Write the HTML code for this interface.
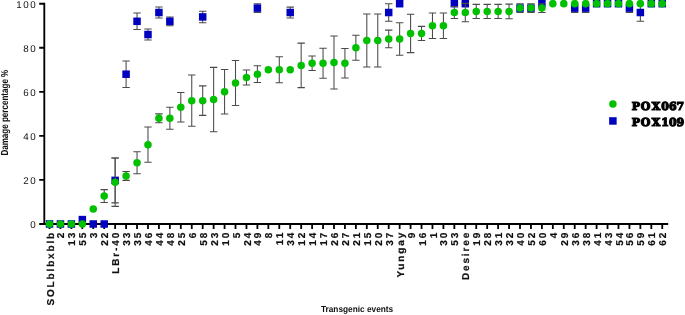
<!DOCTYPE html>
<html><head><meta charset="utf-8"><title>Damage percentage</title>
<style>
html,body{margin:0;padding:0;background:#fff;}
body{width:685px;height:315px;overflow:hidden;}
svg{display:block;}
text{font-family:"Liberation Sans",sans-serif;fill:#111;text-rendering:geometricPrecision;}
.yl{font-size:9.8px;letter-spacing:1.55px;text-anchor:end;}
.xl{font-size:10px;font-weight:bold;stroke:#111;stroke-width:0.2px;letter-spacing:1.85px;text-anchor:end;}
.t{font-size:8px;font-weight:bold;}
.lg{font-family:"DejaVu Serif",serif;font-weight:bold;font-size:11px;fill:#000;stroke:#000;stroke-width:1.15px;}
</style></head><body>
<svg width="685" height="315" viewBox="0 0 685 315">
<rect width="685" height="315" fill="#fff"/>
<g stroke="#000" fill="none">
<path d="M44.30 2.78V224.93" stroke-width="1.85"/>
<path d="M43.38 224.00H668.20" stroke-width="1.85"/>
<path d="M39.20 224.00H44.30M39.20 179.94H44.30M39.20 135.88H44.30M39.20 91.82H44.30M39.20 47.76H44.30M39.20 3.70H44.30" stroke-width="1.85"/>
<path d="M49.50 224.00V229.00M60.44 224.00V229.00M71.38 224.00V229.00M82.33 224.00V229.00M93.27 224.00V229.00M104.21 224.00V229.00M115.15 224.00V229.00M126.09 224.00V229.00M137.04 224.00V229.00M147.98 224.00V229.00M158.92 224.00V229.00M169.86 224.00V229.00M180.80 224.00V229.00M191.75 224.00V229.00M202.69 224.00V229.00M213.63 224.00V229.00M224.57 224.00V229.00M235.51 224.00V229.00M246.46 224.00V229.00M257.40 224.00V229.00M268.34 224.00V229.00M279.28 224.00V229.00M290.22 224.00V229.00M301.17 224.00V229.00M312.11 224.00V229.00M323.05 224.00V229.00M333.99 224.00V229.00M344.93 224.00V229.00M355.88 224.00V229.00M366.82 224.00V229.00M377.76 224.00V229.00M388.70 224.00V229.00M399.64 224.00V229.00M410.59 224.00V229.00M421.53 224.00V229.00M432.47 224.00V229.00M443.41 224.00V229.00M454.35 224.00V229.00M465.30 224.00V229.00M476.24 224.00V229.00M487.18 224.00V229.00M498.12 224.00V229.00M509.06 224.00V229.00M520.01 224.00V229.00M530.95 224.00V229.00M541.89 224.00V229.00M552.83 224.00V229.00M563.77 224.00V229.00M574.72 224.00V229.00M585.66 224.00V229.00M596.60 224.00V229.00M607.54 224.00V229.00M618.48 224.00V229.00M629.43 224.00V229.00M640.37 224.00V229.00M651.31 224.00V229.00M662.25 224.00V229.00" stroke-width="1.8"/>
</g>
<g>
<rect x="45.75" y="220.25" width="7.5" height="7.5" fill="#0000c0"/>
<rect x="56.69" y="220.25" width="7.5" height="7.5" fill="#0000c0"/>
<rect x="67.63" y="220.25" width="7.5" height="7.5" fill="#0000c0"/>
<rect x="78.58" y="215.84" width="7.5" height="7.5" fill="#0000c0"/>
<rect x="89.52" y="220.25" width="7.5" height="7.5" fill="#0000c0"/>
<rect x="100.46" y="220.25" width="7.5" height="7.5" fill="#0000c0"/>
<path d="M115.15 157.91V202.85M111.45 157.91H118.85M111.45 202.85H118.85" fill="none" stroke="#4a4a4a" stroke-width="1.05"/>
<rect x="111.40" y="176.63" width="7.5" height="7.5" fill="#0000c0"/>
<path d="M126.09 60.98V87.41M122.39 60.98H129.79M122.39 87.41H129.79" fill="none" stroke="#4a4a4a" stroke-width="1.05"/>
<rect x="122.34" y="70.45" width="7.5" height="7.5" fill="#0000c0"/>
<path d="M137.04 13.06V29.59M133.34 13.06H140.74M133.34 29.59H140.74" fill="none" stroke="#4a4a4a" stroke-width="1.05"/>
<rect x="133.29" y="17.57" width="7.5" height="7.5" fill="#0000c0"/>
<path d="M147.98 29.03V40.05M144.28 29.03H151.68M144.28 40.05H151.68" fill="none" stroke="#4a4a4a" stroke-width="1.05"/>
<rect x="144.23" y="30.79" width="7.5" height="7.5" fill="#0000c0"/>
<path d="M158.92 7.00V18.02M155.22 7.00H162.62M155.22 18.02H162.62" fill="none" stroke="#4a4a4a" stroke-width="1.05"/>
<rect x="155.17" y="8.76" width="7.5" height="7.5" fill="#0000c0"/>
<path d="M169.86 16.92V25.73M166.16 16.92H173.56M166.16 25.73H173.56" fill="none" stroke="#4a4a4a" stroke-width="1.05"/>
<rect x="166.11" y="17.57" width="7.5" height="7.5" fill="#0000c0"/>
<path d="M202.69 11.19V22.65M198.99 11.19H206.39M198.99 22.65H206.39" fill="none" stroke="#4a4a4a" stroke-width="1.05"/>
<rect x="198.94" y="13.17" width="7.5" height="7.5" fill="#0000c0"/>
<path d="M257.40 3.70V12.51M253.70 3.70H261.10M253.70 12.51H261.10" fill="none" stroke="#4a4a4a" stroke-width="1.05"/>
<rect x="253.65" y="4.36" width="7.5" height="7.5" fill="#0000c0"/>
<path d="M290.22 7.11V17.91M286.52 7.11H293.92M286.52 17.91H293.92" fill="none" stroke="#4a4a4a" stroke-width="1.05"/>
<rect x="286.47" y="8.76" width="7.5" height="7.5" fill="#0000c0"/>
<path d="M388.70 3.70V21.32M385.00 3.70H392.40M385.00 21.32H392.40" fill="none" stroke="#4a4a4a" stroke-width="1.05"/>
<rect x="384.95" y="8.76" width="7.5" height="7.5" fill="#0000c0"/>
<rect x="395.89" y="-0.05" width="7.5" height="7.5" fill="#0000c0"/>
<rect x="450.60" y="-0.05" width="7.5" height="7.5" fill="#0000c0"/>
<rect x="461.55" y="-0.05" width="7.5" height="7.5" fill="#0000c0"/>
<path d="M520.01 3.70V12.51M516.31 3.70H523.71M516.31 12.51H523.71" fill="none" stroke="#4a4a4a" stroke-width="1.05"/>
<rect x="516.26" y="4.36" width="7.5" height="7.5" fill="#0000c0"/>
<path d="M530.95 3.70V12.51M527.25 3.70H534.65M527.25 12.51H534.65" fill="none" stroke="#4a4a4a" stroke-width="1.05"/>
<rect x="527.20" y="4.36" width="7.5" height="7.5" fill="#0000c0"/>
<rect x="538.14" y="-0.05" width="7.5" height="7.5" fill="#0000c0"/>
<path d="M574.72 3.70V12.51M571.02 3.70H578.42M571.02 12.51H578.42" fill="none" stroke="#4a4a4a" stroke-width="1.05"/>
<rect x="570.97" y="4.36" width="7.5" height="7.5" fill="#0000c0"/>
<path d="M585.66 3.70V12.51M581.96 3.70H589.36M581.96 12.51H589.36" fill="none" stroke="#4a4a4a" stroke-width="1.05"/>
<rect x="581.91" y="4.36" width="7.5" height="7.5" fill="#0000c0"/>
<rect x="592.85" y="-0.05" width="7.5" height="7.5" fill="#0000c0"/>
<rect x="603.79" y="-0.05" width="7.5" height="7.5" fill="#0000c0"/>
<rect x="614.73" y="-0.05" width="7.5" height="7.5" fill="#0000c0"/>
<path d="M629.43 3.70V12.51M625.73 3.70H633.13M625.73 12.51H633.13" fill="none" stroke="#4a4a4a" stroke-width="1.05"/>
<rect x="625.68" y="4.36" width="7.5" height="7.5" fill="#0000c0"/>
<path d="M640.37 3.70V21.32M636.67 3.70H644.07M636.67 21.32H644.07" fill="none" stroke="#4a4a4a" stroke-width="1.05"/>
<rect x="636.62" y="8.76" width="7.5" height="7.5" fill="#0000c0"/>
<rect x="647.56" y="-0.05" width="7.5" height="7.5" fill="#0000c0"/>
<rect x="658.50" y="-0.05" width="7.5" height="7.5" fill="#0000c0"/>
</g>
<g>
<circle cx="49.50" cy="224.00" r="3.75" fill="#00c000"/>
<circle cx="60.44" cy="224.00" r="3.75" fill="#00c000"/>
<circle cx="71.38" cy="224.00" r="3.75" fill="#00c000"/>
<circle cx="82.33" cy="224.00" r="3.75" fill="#00c000"/>
<circle cx="93.27" cy="209.02" r="3.75" fill="#00c000"/>
<path d="M104.21 189.63V202.41M100.51 189.63H107.91M100.51 202.41H107.91" fill="none" stroke="#4a4a4a" stroke-width="1.05"/>
<circle cx="104.21" cy="196.02" r="3.75" fill="#00c000"/>
<path d="M115.15 157.91V206.38M111.45 157.91H118.85M111.45 206.38H118.85" fill="none" stroke="#4a4a4a" stroke-width="1.05"/>
<circle cx="115.15" cy="182.14" r="3.75" fill="#00c000"/>
<path d="M126.09 171.57V180.38M122.39 171.57H129.79M122.39 180.38H129.79" fill="none" stroke="#4a4a4a" stroke-width="1.05"/>
<circle cx="126.09" cy="175.97" r="3.75" fill="#00c000"/>
<path d="M137.04 151.74V173.77M133.34 151.74H140.74M133.34 173.77H140.74" fill="none" stroke="#4a4a4a" stroke-width="1.05"/>
<circle cx="137.04" cy="162.76" r="3.75" fill="#00c000"/>
<path d="M147.98 127.07V162.32M144.28 127.07H151.68M144.28 162.32H151.68" fill="none" stroke="#4a4a4a" stroke-width="1.05"/>
<circle cx="147.98" cy="144.69" r="3.75" fill="#00c000"/>
<path d="M158.92 113.85V122.66M155.22 113.85H162.62M155.22 122.66H162.62" fill="none" stroke="#4a4a4a" stroke-width="1.05"/>
<circle cx="158.92" cy="118.26" r="3.75" fill="#00c000"/>
<path d="M169.86 107.24V129.27M166.16 107.24H173.56M166.16 129.27H173.56" fill="none" stroke="#4a4a4a" stroke-width="1.05"/>
<circle cx="169.86" cy="118.26" r="3.75" fill="#00c000"/>
<path d="M180.80 92.48V122.00M177.10 92.48H184.50M177.10 122.00H184.50" fill="none" stroke="#4a4a4a" stroke-width="1.05"/>
<circle cx="180.80" cy="107.24" r="3.75" fill="#00c000"/>
<path d="M191.75 75.08V126.19M188.05 75.08H195.45M188.05 126.19H195.45" fill="none" stroke="#4a4a4a" stroke-width="1.05"/>
<circle cx="191.75" cy="100.63" r="3.75" fill="#00c000"/>
<path d="M202.69 85.87V115.39M198.99 85.87H206.39M198.99 115.39H206.39" fill="none" stroke="#4a4a4a" stroke-width="1.05"/>
<circle cx="202.69" cy="100.63" r="3.75" fill="#00c000"/>
<path d="M213.63 67.37V131.69M209.93 67.37H217.33M209.93 131.69H217.33" fill="none" stroke="#4a4a4a" stroke-width="1.05"/>
<circle cx="213.63" cy="99.53" r="3.75" fill="#00c000"/>
<path d="M224.57 69.57V114.07M220.87 69.57H228.27M220.87 114.07H228.27" fill="none" stroke="#4a4a4a" stroke-width="1.05"/>
<circle cx="224.57" cy="91.82" r="3.75" fill="#00c000"/>
<path d="M235.51 60.54V105.48M231.81 60.54H239.21M231.81 105.48H239.21" fill="none" stroke="#4a4a4a" stroke-width="1.05"/>
<circle cx="235.51" cy="83.01" r="3.75" fill="#00c000"/>
<path d="M246.46 70.01V84.99M242.76 70.01H250.16M242.76 84.99H250.16" fill="none" stroke="#4a4a4a" stroke-width="1.05"/>
<circle cx="246.46" cy="77.50" r="3.75" fill="#00c000"/>
<path d="M257.40 65.82V82.57M253.70 65.82H261.10M253.70 82.57H261.10" fill="none" stroke="#4a4a4a" stroke-width="1.05"/>
<circle cx="257.40" cy="74.20" r="3.75" fill="#00c000"/>
<circle cx="268.34" cy="69.79" r="3.75" fill="#00c000"/>
<path d="M279.28 56.79V82.79M275.58 56.79H282.98M275.58 82.79H282.98" fill="none" stroke="#4a4a4a" stroke-width="1.05"/>
<circle cx="279.28" cy="69.79" r="3.75" fill="#00c000"/>
<circle cx="290.22" cy="69.79" r="3.75" fill="#00c000"/>
<path d="M301.17 43.13V87.63M297.47 43.13H304.87M297.47 87.63H304.87" fill="none" stroke="#4a4a4a" stroke-width="1.05"/>
<circle cx="301.17" cy="65.38" r="3.75" fill="#00c000"/>
<path d="M312.11 55.91V70.45M308.41 55.91H315.81M308.41 70.45H315.81" fill="none" stroke="#4a4a4a" stroke-width="1.05"/>
<circle cx="312.11" cy="63.18" r="3.75" fill="#00c000"/>
<path d="M323.05 48.20V78.16M319.35 48.20H326.75M319.35 78.16H326.75" fill="none" stroke="#4a4a4a" stroke-width="1.05"/>
<circle cx="323.05" cy="63.18" r="3.75" fill="#00c000"/>
<path d="M333.99 36.08V88.96M330.29 36.08H337.69M330.29 88.96H337.69" fill="none" stroke="#4a4a4a" stroke-width="1.05"/>
<circle cx="333.99" cy="62.52" r="3.75" fill="#00c000"/>
<path d="M344.93 48.42V77.94M341.23 48.42H348.63M341.23 77.94H348.63" fill="none" stroke="#4a4a4a" stroke-width="1.05"/>
<circle cx="344.93" cy="63.18" r="3.75" fill="#00c000"/>
<path d="M355.88 35.20V60.32M352.18 35.20H359.58M352.18 60.32H359.58" fill="none" stroke="#4a4a4a" stroke-width="1.05"/>
<circle cx="355.88" cy="47.76" r="3.75" fill="#00c000"/>
<path d="M366.82 14.05V66.93M363.12 14.05H370.52M363.12 66.93H370.52" fill="none" stroke="#4a4a4a" stroke-width="1.05"/>
<circle cx="366.82" cy="40.49" r="3.75" fill="#00c000"/>
<path d="M377.76 14.05V66.93M374.06 14.05H381.46M374.06 66.93H381.46" fill="none" stroke="#4a4a4a" stroke-width="1.05"/>
<circle cx="377.76" cy="40.49" r="3.75" fill="#00c000"/>
<path d="M388.70 30.14V47.76M385.00 30.14H392.40M385.00 47.76H392.40" fill="none" stroke="#4a4a4a" stroke-width="1.05"/>
<circle cx="388.70" cy="38.95" r="3.75" fill="#00c000"/>
<path d="M399.64 22.65V55.25M395.94 22.65H403.34M395.94 55.25H403.34" fill="none" stroke="#4a4a4a" stroke-width="1.05"/>
<circle cx="399.64" cy="38.95" r="3.75" fill="#00c000"/>
<path d="M410.59 14.27V52.61M406.89 14.27H414.29M406.89 52.61H414.29" fill="none" stroke="#4a4a4a" stroke-width="1.05"/>
<circle cx="410.59" cy="33.44" r="3.75" fill="#00c000"/>
<path d="M421.53 26.39V40.49M417.83 26.39H425.23M417.83 40.49H425.23" fill="none" stroke="#4a4a4a" stroke-width="1.05"/>
<circle cx="421.53" cy="33.44" r="3.75" fill="#00c000"/>
<path d="M432.47 12.95V38.51M428.77 12.95H436.17M428.77 38.51H436.17" fill="none" stroke="#4a4a4a" stroke-width="1.05"/>
<circle cx="432.47" cy="25.73" r="3.75" fill="#00c000"/>
<path d="M443.41 12.95V38.51M439.71 12.95H447.11M439.71 38.51H447.11" fill="none" stroke="#4a4a4a" stroke-width="1.05"/>
<circle cx="443.41" cy="25.73" r="3.75" fill="#00c000"/>
<path d="M454.35 6.56V18.46M450.65 6.56H458.05M450.65 18.46H458.05" fill="none" stroke="#4a4a4a" stroke-width="1.05"/>
<circle cx="454.35" cy="12.51" r="3.75" fill="#00c000"/>
<path d="M465.30 3.37V21.65M461.60 3.37H469.00M461.60 21.65H469.00" fill="none" stroke="#4a4a4a" stroke-width="1.05"/>
<circle cx="465.30" cy="12.51" r="3.75" fill="#00c000"/>
<path d="M476.24 4.36V18.46M472.54 4.36H479.94M472.54 18.46H479.94" fill="none" stroke="#4a4a4a" stroke-width="1.05"/>
<circle cx="476.24" cy="11.41" r="3.75" fill="#00c000"/>
<path d="M487.18 4.36V18.46M483.48 4.36H490.88M483.48 18.46H490.88" fill="none" stroke="#4a4a4a" stroke-width="1.05"/>
<circle cx="487.18" cy="11.41" r="3.75" fill="#00c000"/>
<path d="M498.12 4.36V18.46M494.42 4.36H501.82M494.42 18.46H501.82" fill="none" stroke="#4a4a4a" stroke-width="1.05"/>
<circle cx="498.12" cy="11.41" r="3.75" fill="#00c000"/>
<path d="M509.06 4.14V18.68M505.36 4.14H512.76M505.36 18.68H512.76" fill="none" stroke="#4a4a4a" stroke-width="1.05"/>
<circle cx="509.06" cy="11.41" r="3.75" fill="#00c000"/>
<circle cx="520.01" cy="8.11" r="3.75" fill="#00c000"/>
<circle cx="530.95" cy="8.11" r="3.75" fill="#00c000"/>
<path d="M541.89 3.70V12.51M538.19 3.70H545.59M538.19 12.51H545.59" fill="none" stroke="#4a4a4a" stroke-width="1.05"/>
<circle cx="541.89" cy="8.11" r="3.75" fill="#00c000"/>
<circle cx="552.83" cy="3.70" r="3.75" fill="#00c000"/>
<circle cx="563.77" cy="3.70" r="3.75" fill="#00c000"/>
<circle cx="574.72" cy="3.70" r="3.75" fill="#00c000"/>
<circle cx="585.66" cy="3.70" r="3.75" fill="#00c000"/>
<circle cx="596.60" cy="3.70" r="3.75" fill="#00c000"/>
<circle cx="607.54" cy="3.70" r="3.75" fill="#00c000"/>
<circle cx="618.48" cy="3.70" r="3.75" fill="#00c000"/>
<circle cx="629.43" cy="3.70" r="3.75" fill="#00c000"/>
<circle cx="640.37" cy="3.70" r="3.75" fill="#00c000"/>
<circle cx="651.31" cy="3.70" r="3.75" fill="#00c000"/>
<circle cx="662.25" cy="3.70" r="3.75" fill="#00c000"/>
</g>
<text class="yl" x="37.35" y="228.20">0</text>
<text class="yl" x="37.35" y="184.14">20</text>
<text class="yl" x="37.35" y="140.08">40</text>
<text class="yl" x="37.35" y="96.02">60</text>
<text class="yl" x="37.35" y="51.96">80</text>
<text class="yl" x="37.35" y="7.90">100</text>
<text class="xl" transform="translate(53.55 232.80) rotate(-90)" x="1.85" y="0">SOLblbxblb</text>
<text class="xl" transform="translate(64.49 232.80) rotate(-90)" x="1.85" y="0">2</text>
<text class="xl" transform="translate(75.43 232.80) rotate(-90)" x="1.85" y="0">13</text>
<text class="xl" transform="translate(86.38 232.80) rotate(-90)" x="1.85" y="0">55</text>
<text class="xl" transform="translate(97.32 232.80) rotate(-90)" x="1.85" y="0">3</text>
<text class="xl" transform="translate(108.26 232.80) rotate(-90)" x="1.85" y="0">22</text>
<text class="xl" transform="translate(119.20 232.80) rotate(-90)" x="1.85" y="0">LBr-40</text>
<text class="xl" transform="translate(130.14 232.80) rotate(-90)" x="1.85" y="0">33</text>
<text class="xl" transform="translate(141.09 232.80) rotate(-90)" x="1.85" y="0">35</text>
<text class="xl" transform="translate(152.03 232.80) rotate(-90)" x="1.85" y="0">46</text>
<text class="xl" transform="translate(162.97 232.80) rotate(-90)" x="1.85" y="0">44</text>
<text class="xl" transform="translate(173.91 232.80) rotate(-90)" x="1.85" y="0">48</text>
<text class="xl" transform="translate(184.85 232.80) rotate(-90)" x="1.85" y="0">25</text>
<text class="xl" transform="translate(195.80 232.80) rotate(-90)" x="1.85" y="0">6</text>
<text class="xl" transform="translate(206.74 232.80) rotate(-90)" x="1.85" y="0">58</text>
<text class="xl" transform="translate(217.68 232.80) rotate(-90)" x="1.85" y="0">23</text>
<text class="xl" transform="translate(228.62 232.80) rotate(-90)" x="1.85" y="0">10</text>
<text class="xl" transform="translate(239.56 232.80) rotate(-90)" x="1.85" y="0">5</text>
<text class="xl" transform="translate(250.51 232.80) rotate(-90)" x="1.85" y="0">24</text>
<text class="xl" transform="translate(261.45 232.80) rotate(-90)" x="1.85" y="0">49</text>
<text class="xl" transform="translate(272.39 232.80) rotate(-90)" x="1.85" y="0">8</text>
<text class="xl" transform="translate(283.33 232.80) rotate(-90)" x="1.85" y="0">11</text>
<text class="xl" transform="translate(294.27 232.80) rotate(-90)" x="1.85" y="0">34</text>
<text class="xl" transform="translate(305.22 232.80) rotate(-90)" x="1.85" y="0">12</text>
<text class="xl" transform="translate(316.16 232.80) rotate(-90)" x="1.85" y="0">14</text>
<text class="xl" transform="translate(327.10 232.80) rotate(-90)" x="1.85" y="0">17</text>
<text class="xl" transform="translate(338.04 232.80) rotate(-90)" x="1.85" y="0">26</text>
<text class="xl" transform="translate(348.98 232.80) rotate(-90)" x="1.85" y="0">27</text>
<text class="xl" transform="translate(359.93 232.80) rotate(-90)" x="1.85" y="0">21</text>
<text class="xl" transform="translate(370.87 232.80) rotate(-90)" x="1.85" y="0">15</text>
<text class="xl" transform="translate(381.81 232.80) rotate(-90)" x="1.85" y="0">20</text>
<text class="xl" transform="translate(392.75 232.80) rotate(-90)" x="1.85" y="0">37</text>
<text class="xl" transform="translate(403.69 232.80) rotate(-90)" x="1.85" y="0">Yungay</text>
<text class="xl" transform="translate(414.64 232.80) rotate(-90)" x="1.85" y="0">9</text>
<text class="xl" transform="translate(425.58 232.80) rotate(-90)" x="1.85" y="0">16</text>
<text class="xl" transform="translate(436.52 232.80) rotate(-90)" x="1.85" y="0">1</text>
<text class="xl" transform="translate(447.46 232.80) rotate(-90)" x="1.85" y="0">30</text>
<text class="xl" transform="translate(458.40 232.80) rotate(-90)" x="1.85" y="0">53</text>
<text class="xl" transform="translate(469.35 232.80) rotate(-90)" x="1.85" y="0">Desiree</text>
<text class="xl" transform="translate(480.29 232.80) rotate(-90)" x="1.85" y="0">19</text>
<text class="xl" transform="translate(491.23 232.80) rotate(-90)" x="1.85" y="0">28</text>
<text class="xl" transform="translate(502.17 232.80) rotate(-90)" x="1.85" y="0">31</text>
<text class="xl" transform="translate(513.11 232.80) rotate(-90)" x="1.85" y="0">32</text>
<text class="xl" transform="translate(524.06 232.80) rotate(-90)" x="1.85" y="0">40</text>
<text class="xl" transform="translate(535.00 232.80) rotate(-90)" x="1.85" y="0">52</text>
<text class="xl" transform="translate(545.94 232.80) rotate(-90)" x="1.85" y="0">60</text>
<text class="xl" transform="translate(556.88 232.80) rotate(-90)" x="1.85" y="0">4</text>
<text class="xl" transform="translate(567.82 232.80) rotate(-90)" x="1.85" y="0">29</text>
<text class="xl" transform="translate(578.77 232.80) rotate(-90)" x="1.85" y="0">36</text>
<text class="xl" transform="translate(589.71 232.80) rotate(-90)" x="1.85" y="0">38</text>
<text class="xl" transform="translate(600.65 232.80) rotate(-90)" x="1.85" y="0">41</text>
<text class="xl" transform="translate(611.59 232.80) rotate(-90)" x="1.85" y="0">43</text>
<text class="xl" transform="translate(622.53 232.80) rotate(-90)" x="1.85" y="0">54</text>
<text class="xl" transform="translate(633.48 232.80) rotate(-90)" x="1.85" y="0">56</text>
<text class="xl" transform="translate(644.42 232.80) rotate(-90)" x="1.85" y="0">59</text>
<text class="xl" transform="translate(655.36 232.80) rotate(-90)" x="1.85" y="0">61</text>
<text class="xl" transform="translate(666.30 232.80) rotate(-90)" x="1.85" y="0">62</text>
<text class="t" style="font-size:10.2px" transform="translate(7.6 155.6) rotate(-90) scale(0.79 1)" x="0" y="0">Damage percentage %</text>
<text class="t" style="font-size:8.8px" x="320.9" y="311.7" textLength="72.3" lengthAdjust="spacingAndGlyphs">Transgenic events</text>
<circle cx="612.9" cy="103.9" r="3.75" fill="#00c000"/>
<rect x="609.15" y="117.2" width="7.5" height="7.5" fill="#0000c0"/>
<text class="lg" x="631.7 640.8 651.7 661.3 669.0 676.4" y="109.6">POX067</text>
<text class="lg" x="631.7 640.8 651.7 661.3 669.0 676.4" y="126.4">POX109</text>
</svg>
</body></html>
